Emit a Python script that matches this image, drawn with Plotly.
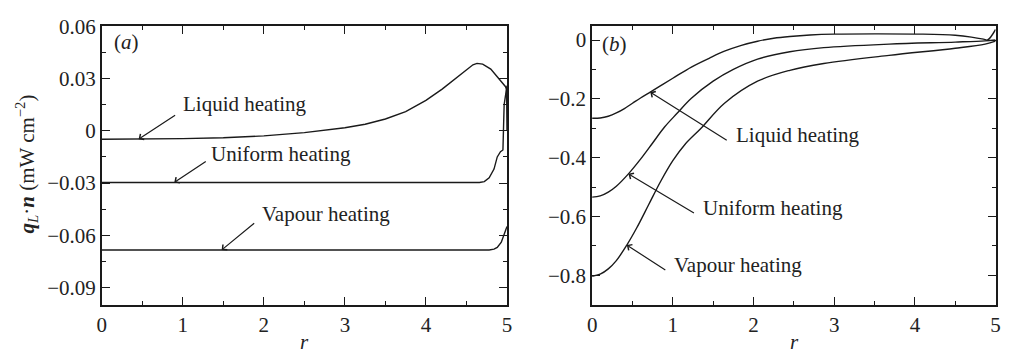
import numpy as np
import plotly.graph_objects as go

# ---- panel (a): interfacial heat flux q_L·n (mW cm^-2) versus r ----
r_a_liquid = [0.0, 0.5, 1.0, 1.5, 2.0, 2.5, 2.75, 3.0, 3.25, 3.5, 3.75, 4.0, 4.2, 4.4, 4.5, 4.58, 4.63, 4.7, 4.8, 4.9, 4.98, 4.995, 5.0]
q_a_liquid = [-0.0048, -0.0048, -0.0045, -0.0040, -0.0029, -0.0010, 0.0002, 0.0018, 0.0038, 0.0068, 0.0110, 0.0175, 0.0240, 0.0315, 0.0355, 0.0380, 0.0388, 0.0384, 0.0355, 0.0300, 0.0255, 0.0240, 0.0]

r_a_uniform = [0.0, 4.66, 4.72, 4.78, 4.84, 4.88, 4.92, 4.95, 4.965, 4.99, 5.0]
q_a_uniform = [-0.0297, -0.0297, -0.0292, -0.0270, -0.0220, -0.0150, -0.0120, -0.0110, 0.0150, 0.0250, 0.0260]

r_a_vapour = [0.0, 4.78, 4.84, 4.88, 4.93, 4.96, 4.975, 5.0]
q_a_vapour = [-0.0685, -0.0685, -0.0680, -0.0670, -0.0640, -0.0600, -0.0580, -0.0550]

# ---- panel (b) ----
r_b_liquid = [0.0, 0.1, 0.2, 0.3, 0.4, 0.5, 0.6, 0.72, 0.85, 1.0, 1.23, 1.45, 1.64, 1.85, 2.05, 2.25, 2.45, 2.7, 3.0, 3.5, 4.1, 4.5, 4.7, 4.85, 4.9, 5.0]
q_b_liquid = [-0.266, -0.265, -0.259, -0.248, -0.233, -0.215, -0.197, -0.177, -0.155, -0.130, -0.092, -0.062, -0.038, -0.018, -0.004, 0.006, 0.012, 0.017, 0.020, 0.021, 0.020, 0.016, 0.010, 0.003, 0.000, 0.036]

r_b_uniform = [0.0, 0.1, 0.2, 0.3, 0.45, 0.6, 0.75, 0.9, 1.05, 1.23, 1.5, 1.75, 2.05, 2.45, 2.87, 3.68, 4.5, 4.87, 5.0]
q_b_uniform = [-0.534, -0.530, -0.517, -0.497, -0.455, -0.405, -0.350, -0.295, -0.250, -0.198, -0.140, -0.100, -0.065, -0.040, -0.026, -0.014, -0.007, -0.003, 0.0]

r_b_vapour = [0.0, 0.1, 0.2, 0.3, 0.43, 0.55, 0.7, 0.85, 1.0, 1.15, 1.35, 1.64, 2.05, 2.45, 2.87, 3.68, 4.5, 4.87, 5.0]
q_b_vapour = [-0.803, -0.796, -0.778, -0.750, -0.697, -0.640, -0.560, -0.480, -0.410, -0.355, -0.300, -0.215, -0.140, -0.103, -0.080, -0.052, -0.028, -0.014, -0.004]

case_names = ["Liquid heating", "Uniform heating", "Vapour heating"]

W, H = 1010, 355
FONT = "Liberation Serif"
INK = "#1a1a1a"

fig = go.Figure()

series_a = [(r_a_liquid, q_a_liquid), (r_a_uniform, q_a_uniform), (r_a_vapour, q_a_vapour)]
series_b = [(r_b_liquid, q_b_liquid), (r_b_uniform, q_b_uniform), (r_b_vapour, q_b_vapour)]

for (rr, qq), name in zip(series_a, case_names):
    fig.add_trace(go.Scatter(x=rr, y=qq, mode="lines", name=name, xaxis="x", yaxis="y",
                             line=dict(color=INK, width=1.4), showlegend=False))
for (rr, qq), name in zip(series_b, case_names):
    fig.add_trace(go.Scatter(x=rr, y=qq, mode="lines", name=name, xaxis="x2", yaxis="y2",
                             line=dict(color=INK, width=1.4, shape="spline", smoothing=1.0),
                             showlegend=False))

ydom = [1 - 303 / H, 1 - 15 / H]
common = dict(showline=True, linecolor=INK, linewidth=1.6, mirror="ticks", ticks="inside",
              ticklen=8, tickwidth=1.2, tickcolor=INK, showgrid=False, zeroline=False,
              tickfont=dict(family=FONT, size=21, color="#222"))

def minor(d):
    return dict(ticks="inside", ticklen=4, tickwidth=1, tickcolor=INK, dtick=d, showgrid=False)

fig.update_layout(
    width=W, height=H, margin=dict(l=0, r=0, t=0, b=0),
    paper_bgcolor="white", plot_bgcolor="white",
    xaxis=dict(domain=[97.7 / W, 507 / W], range=[0, 5], tick0=0, dtick=1, minor=minor(0.5),
               anchor="y", **common),
    yaxis=dict(domain=ydom, range=[-0.1, 0.06], tick0=0, dtick=0.03, minor=minor(0.015),
               anchor="x", **common),
    xaxis2=dict(domain=[593 / W, 1000.5 / W], range=[0, 5], tick0=0, dtick=1, minor=minor(0.5),
                anchor="y2", **common),
    yaxis2=dict(domain=ydom, range=[-0.9, 0.046], tick0=0, dtick=0.2, minor=minor(0.1),
                anchor="x2", **common),
)

txt = dict(family=FONT, size=21, color="#222")
ann = []

# axis titles
ann.append(dict(xref="paper", yref="paper", x=22 / W, y=1 - 157 / H, textangle=-90,
                text="<b><i>q</i></b><sub><i>L</i></sub>·<b><i>n</i></b> (mW cm<sup>−2</sup>)",
                showarrow=False, font=txt, xanchor="center", yanchor="middle"))
for xc in (302 / W, 797 / W):
    ann.append(dict(xref="paper", yref="paper", x=xc, y=1 - 342 / H, text="<i>r</i>",
                    showarrow=False, font=txt, xanchor="center", yanchor="middle"))

# panel letters
ann.append(dict(xref="paper", yref="paper", x=108 / W, y=1 - 31 / H, text="(<i>a</i>)",
                showarrow=False, font=txt, xanchor="left", yanchor="middle"))
ann.append(dict(xref="paper", yref="paper", x=601 / W, y=1 - 33 / H, text="(<i>b</i>)",
                showarrow=False, font=txt, xanchor="left", yanchor="middle"))

# labelled arrows: (tip r, tail offset px, text position in data coords)
arrows_a = [(0.455, 38, -25, 0.98, 0.0133), (0.895, 33, -22, 1.32, -0.0156), (1.48, 34, -28, 1.956, -0.050)]
arrows_b = [(0.72, 78, 49, 1.755, -0.338), (0.45, 67, 40, 1.35, -0.584), (0.43, 40, 26, 0.995, -0.780)]

for axes, arrows, series in (("", arrows_a, series_a), ("2", arrows_b, series_b)):
    for (tip_r, dx, dy, tx, ty), (rr, qq), name in zip(arrows, series, case_names):
        tip_q = float(np.interp(tip_r, rr, qq))
        ann.append(dict(xref="x" + axes, yref="y" + axes, x=tip_r, y=tip_q, text="",
                        showarrow=True, arrowhead=4, arrowsize=1.1, arrowwidth=1.2,
                        arrowcolor=INK, ax=dx, ay=dy, standoff=0))
        ann.append(dict(xref="x" + axes, yref="y" + axes, x=tx, y=ty, text=name,
                        showarrow=False, font=txt, xanchor="left", yanchor="middle", yshift=4))

fig.update_layout(annotations=ann)
fig.write_html("out.html")
